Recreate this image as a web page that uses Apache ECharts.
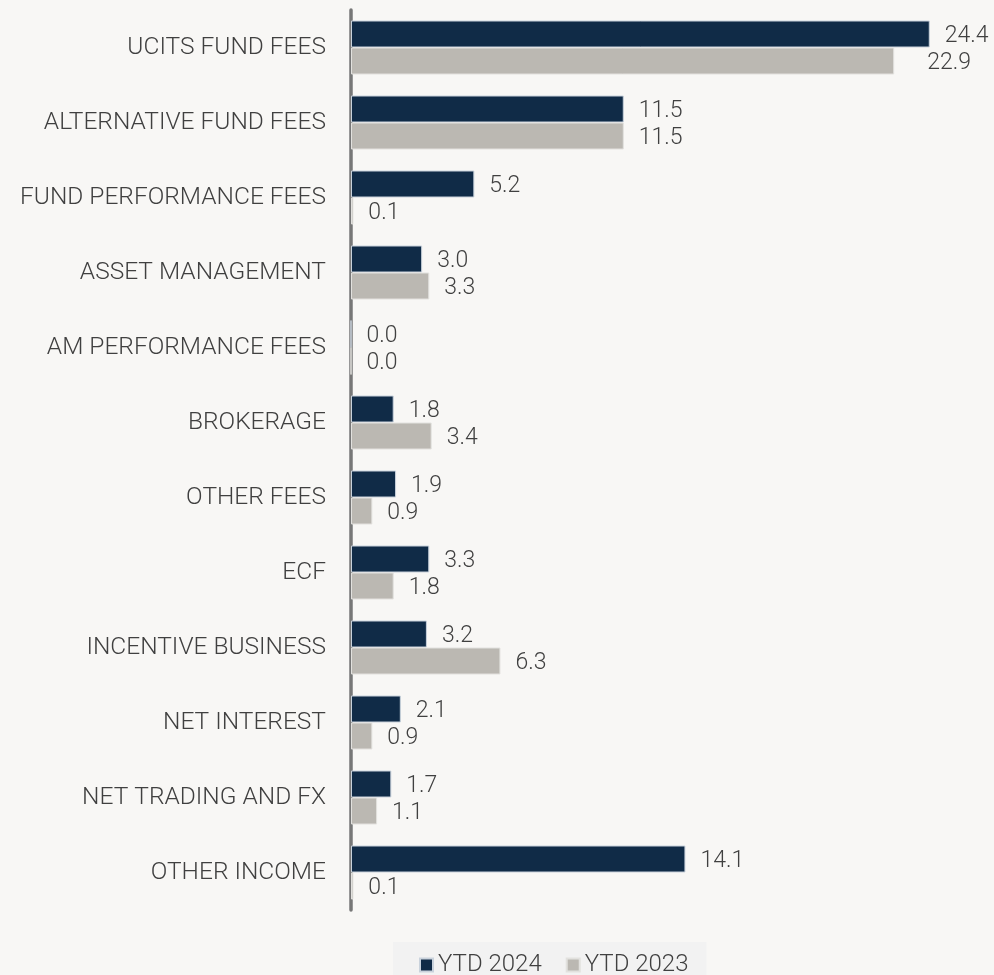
<!DOCTYPE html>
<html>
<head>
<meta charset="utf-8">
<script src="https://cdn.jsdelivr.net/npm/echarts@6/dist/echarts.min.js"></script>
<style>
html,body{margin:0;padding:0;background:#f8f7f5;}
#chart{width:994px;height:975px;}
</style>
</head>
<body>
<div id="chart"></div>
<script>
const categories = ["UCITS FUND FEES","ALTERNATIVE FUND FEES","FUND PERFORMANCE FEES","ASSET MANAGEMENT","AM PERFORMANCE FEES","BROKERAGE","OTHER FEES","ECF","INCENTIVE BUSINESS","NET INTEREST","NET TRADING AND FX","OTHER INCOME"];
const ytd2024 = [24.4, 11.5, 5.2, 3.0, 0.0, 1.8, 1.9, 3.3, 3.2, 2.1, 1.7, 14.1];
const ytd2023 = [22.9, 11.5, 0.1, 3.3, 0.0, 3.4, 0.9, 1.8, 6.3, 0.9, 1.1, 0.1];
const seriesNames = ["YTD 2024", "YTD 2023"];

const FONT = "Roboto, 'Liberation Sans', Arial, sans-serif";
const TEXT = '#404040';
const FW = 300;

const chart = echarts.init(document.getElementById('chart'));

function labelCfg(){
  return {
    show: true, position: 'right', distance: 15,
    color: TEXT, fontSize: 23, fontWeight: FW, fontFamily: FONT,
    offset: [0, 2],
    formatter: p => Number(p.value).toFixed(1)
  };
}

const data2023 = ytd2023.map((v, i) => i === 0 ? {value: v, label: {distance: 33}} : v);

chart.setOption({
  backgroundColor: '#f8f7f5',
  animation: false,
  grid: {left: 351, top: 10, height: 900, width: 593, containLabel: false},
  legend: {
    data: seriesNames,
    top: 942,
    left: 393,
    icon: 'rect',
    itemWidth: 13,
    itemHeight: 13,
    itemGap: 24,
    backgroundColor: '#f2f2f2',
    padding: [11, 18, 14, 26],
    textStyle: {color: TEXT, fontSize: 24, fontWeight: FW, fontFamily: FONT}
  },
  xAxis: {
    type: 'value', min: 0, max: 25, show: false,
    splitLine: {show: false}
  },
  yAxis: {
    type: 'category', data: categories, inverse: true,
    offset: 2,
    axisLine: {show: true, lineStyle: {color: '#777777', width: 3.5}},
    axisTick: {show: false},
    axisLabel: {color: TEXT, fontSize: 24.5, fontWeight: FW, fontFamily: FONT, margin: 23, padding: [3, 0, 0, 0]}
  },
  series: [
    {
      name: seriesNames[0], type: 'bar', data: ytd2024,
      barGap: '0%', barCategoryGap: '28%',
      itemStyle: {color: '#102b47', borderColor: '#c9d2dc', borderWidth: 1},
      label: labelCfg()
    },
    {
      name: seriesNames[1], type: 'bar', data: data2023,
      barGap: '0%', barCategoryGap: '28%',
      itemStyle: {color: '#bbb8b2', borderColor: '#e2e1de', borderWidth: 1},
      label: labelCfg()
    }
  ]
});
</script>
</body>
</html>
